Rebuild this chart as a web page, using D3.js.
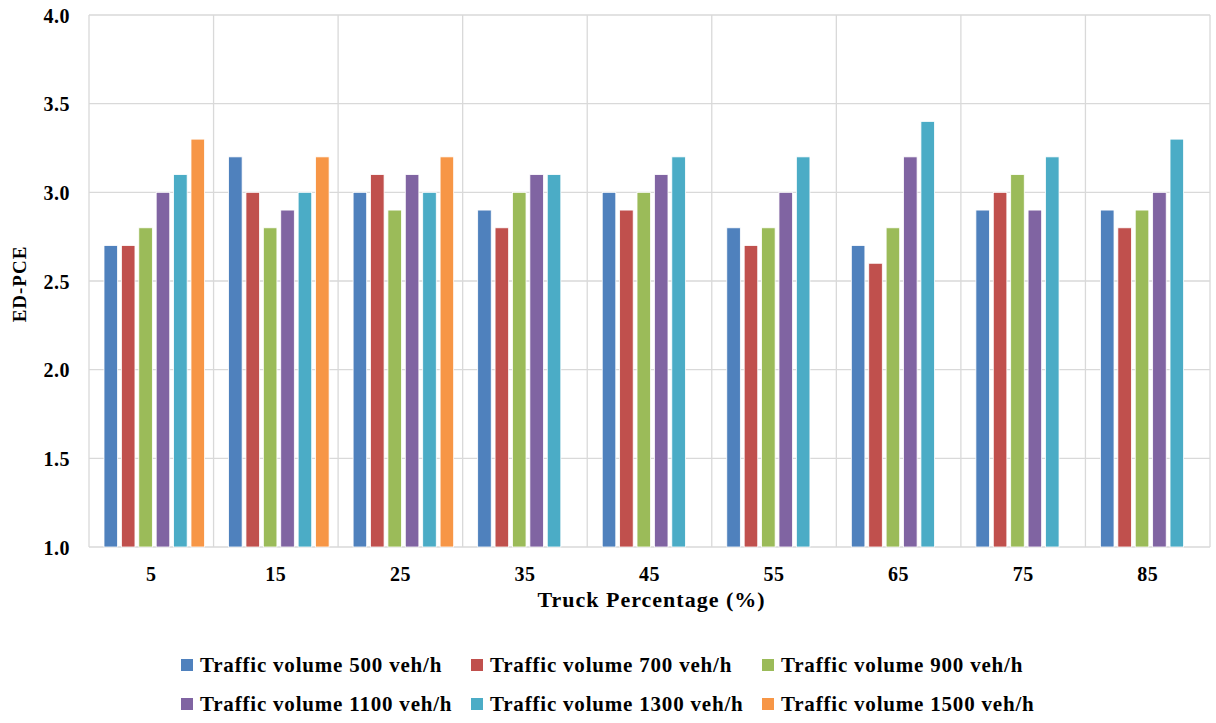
<!DOCTYPE html>
<html><head><meta charset="utf-8">
<script src="https://cdn.jsdelivr.net/npm/d3@7"></script>
<style>body{margin:0;background:#fff}svg{display:block}text{font-family:"Liberation Serif","Times New Roman",serif;font-weight:bold;fill:#000}</style>
</head><body><svg id="c" width="1216" height="723"></svg>
<script>
const categories = ["5","15","25","35","45","55","65","75","85"];
const seriesNames = ["Traffic volume 500 veh/h","Traffic volume 700 veh/h","Traffic volume 900 veh/h","Traffic volume 1100 veh/h","Traffic volume 1300 veh/h","Traffic volume 1500 veh/h"];
const colors = ["#4F81BD","#C0504D","#9BBB59","#8064A2","#4BACC6","#F79646"];
const v500  = [2.7,3.2,3.0,2.9,3.0,2.8,2.7,2.9,2.9];
const v700  = [2.7,3.0,3.1,2.8,2.9,2.7,2.6,3.0,2.8];
const v900  = [2.8,2.8,2.9,3.0,3.0,2.8,2.8,3.1,2.9];
const v1100 = [3.0,2.9,3.1,3.1,3.1,3.0,3.2,2.9,3.0];
const v1300 = [3.1,3.0,3.0,3.1,3.2,3.2,3.4,3.2,3.3];
const v1500 = [3.3,3.2,3.2,null,null,null,null,null,null];
const yTicks = [1.0,1.5,2.0,2.5,3.0,3.5,4.0];
const series = [v500,v700,v900,v1100,v1300,v1500];

const svg = d3.select("#c");
const L=89, R=1210, T=15, B=547;
const x = d3.scaleBand().domain(categories).range([L,R]).paddingInner(0).paddingOuter(0);
const x1 = d3.scaleBand().domain(d3.range(6)).range([15,x.bandwidth()-9]).paddingInner(0.22).paddingOuter(0);
const y = d3.scaleLinear().domain([1,4]).range([B,T]);

// horizontal grid
svg.append("g").selectAll("line").data(yTicks).join("line")
  .attr("x1",L).attr("x2",R).attr("y1",d=>y(d)).attr("y2",d=>y(d))
  .attr("stroke","#D9D9D9").attr("stroke-width",1.3);
// vertical grid
const vb = categories.map(c=>x(c)).concat([R]);
svg.append("g").selectAll("line").data(vb).join("line")
  .attr("x1",d=>d).attr("x2",d=>d).attr("y1",T).attr("y2",B)
  .attr("stroke","#D9D9D9").attr("stroke-width",1.3);

// bars
const g = svg.append("g");
categories.forEach((c,i)=>{
  series.forEach((s,j)=>{
    if(s[i]==null) return;
    g.append("rect").attr("x",x(c)+x1(j)).attr("width",x1.bandwidth())
      .attr("y",y(s[i])).attr("height",y(1)-y(s[i]))
      .attr("fill",colors[j]).attr("stroke","#fff").attr("stroke-width",0.8);
  });
});

// y axis
const ya = svg.append("g").attr("transform",`translate(${L},0)`)
  .call(d3.axisLeft(y).tickValues(yTicks).tickFormat(d3.format(".1f")).tickSize(0).tickPadding(19));
ya.select(".domain").remove();
ya.selectAll("text").style("font-size","20px").style("letter-spacing","0.5px").attr("dy","0.35em");
// x axis
const xa = svg.append("g").attr("transform",`translate(0,${B})`)
  .call(d3.axisBottom(x).tickSize(0));
xa.select(".domain").remove();
xa.selectAll("text").style("font-size","20px").style("letter-spacing","0.5px").attr("dy","0.35em").attr("y",27);

svg.append("text").attr("x",(L+R)/2 + 2).attr("y",607).attr("text-anchor","middle")
  .style("font-size","22px").style("letter-spacing","1px").text("Truck Percentage (%)");
svg.append("text").attr("transform",`translate(26,${284}) rotate(-90)`).attr("text-anchor","middle")
  .style("font-size","19px").style("letter-spacing","1px").text("ED-PCE");

// legend
const colX=[181,471,762], rowY=[665,704];
seriesNames.forEach((n,i)=>{
  const cx=colX[i%3], cy=rowY[Math.floor(i/3)];
  svg.append("rect").attr("x",cx).attr("y",cy-6).attr("width",12).attr("height",12).attr("fill",colors[i]);
  svg.append("text").attr("x",cx+19).attr("y",cy).attr("dy","0.35em").style("font-size","21px").style("letter-spacing","0.8px").text(n);
});
</script></body></html>
